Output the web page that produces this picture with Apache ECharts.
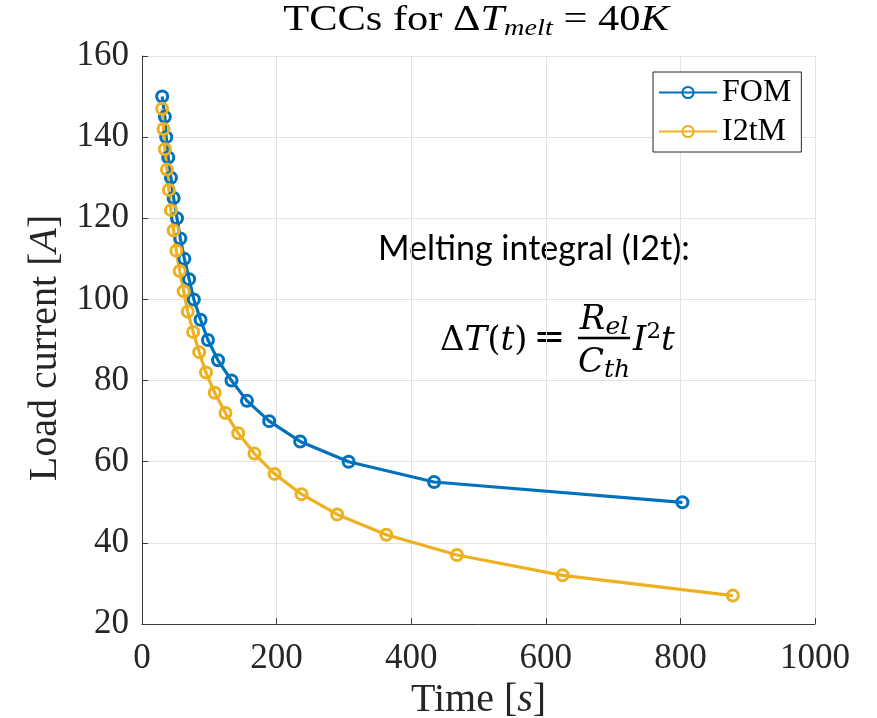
<!DOCTYPE html>
<html>
<head>
<meta charset="utf-8">
<script src="https://cdn.jsdelivr.net/npm/echarts@6/dist/echarts.min.js"></script>
<style>
  html, body { margin: 0; padding: 0; background: #ffffff; }
  #chart { width: 877px; height: 718px; }
</style>
</head>
<body>
<div id="chart"></div>
<script>
// Time-current characteristics: load current (A) and time to reach the melting temperature (s)
const seriesNames = ['FOM', 'I2tM'];

const fomCurrent = [150, 145, 140, 135, 130, 125, 120, 115, 110, 105, 100, 95, 90, 85, 80, 75, 70, 65, 60, 55, 50];
const fomTime    = [30, 34, 36, 39, 43, 47, 52, 57, 63, 70, 77, 87, 98, 113, 133, 156, 189, 235, 307, 434, 803];

const i2tCurrent = [147, 142, 137, 132, 127, 122, 117, 112, 107, 102, 97, 92, 87, 82, 77, 72, 67, 62, 57, 52, 47, 42, 37, 32, 27];
const i2tTime    = [30, 32, 34, 37, 40, 43, 47, 51, 56, 62, 68, 76, 85, 95, 108, 124, 143, 167, 197, 237, 290, 363, 468, 625, 878];

// Axis tick values
const timeTicks = [0, 200, 400, 600, 800, 1000];
const currentTicks = [20, 40, 60, 80, 100, 120, 140, 160];

const SERIF = 'Liberation Serif';
const MATH = 'DejaVu Serif';
const BLUE = '#0072BD';
const YELLOW = '#EDB120';
const AXIS = '#3a3a3a';

function pairs(xs, ys) {
  return xs.map((x, i) => [x, ys[i]]);
}

function lineSeries(name, color, data) {
  return {
    name: name,
    type: 'line',
    data: data,
    symbol: 'circle',
    symbolSize: 11,
    showAllSymbol: true,
    lineStyle: { color: color, width: 3.2 },
    itemStyle: { color: 'rgba(255,255,255,0)', borderColor: color, borderWidth: 3 },
    emphasis: { disabled: true },
    silent: true
  };
}

const chart = echarts.init(document.getElementById('chart'), null, { renderer: 'canvas' });

// rich-text token helper: family, size, italic flag, optional overrides
const tok = (family, size, italic, extra) => Object.assign({
  fontFamily: family, fontSize: size, fontStyle: italic ? 'italic' : 'normal', fontWeight: 'normal',
  fill: '#000', lineHeight: 40, verticalAlign: 'middle'
}, extra || {});

chart.setOption({
  animation: false,
  backgroundColor: '#ffffff',
  legend: {
    data: seriesNames,
    orient: 'vertical',
    left: 653,
    top: 72,
    padding: [4, 10, 4, 5],
    itemGap: 6,
    itemWidth: 58,
    itemHeight: 14,
    backgroundColor: '#ffffff',
    borderColor: '#262626',
    borderWidth: 1,
    borderRadius: 0,
    textStyle: { fontFamily: SERIF, fontSize: 32, color: '#000', lineHeight: 33 }
  },
  grid: {
    left: 142, right: 62, top: 56, bottom: 94,
    containLabel: false,
    outerBoundsMode: 'none'
  },
  xAxis: {
    type: 'value',
    min: timeTicks[0],
    max: timeTicks[timeTicks.length - 1],
    interval: timeTicks[1] - timeTicks[0],
    name: 'Time [{i|s}]',
    nameLocation: 'middle',
    nameGap: 52,
    nameTextStyle: {
      fontFamily: SERIF, fontSize: 40, color: '#262626',
      rich: { i: { fontFamily: SERIF, fontSize: 40, fontStyle: 'italic', color: '#262626' } }
    },
    axisLine: { show: true, onZero: false, lineStyle: { color: AXIS, width: 1 } },
    axisTick: { show: true, inside: true, length: 6, lineStyle: { color: AXIS, width: 1 } },
    axisLabel: { fontFamily: SERIF, fontSize: 35, color: '#262626', margin: 17, formatter: v => String(v) },
    splitLine: { show: true, lineStyle: { color: '#e3e3e3', width: 1 } }
  },
  yAxis: {
    type: 'value',
    min: currentTicks[0],
    max: currentTicks[currentTicks.length - 1],
    interval: currentTicks[1] - currentTicks[0],
    name: 'Load current [{i|A}]',
    nameLocation: 'middle',
    nameRotate: 90,
    nameGap: 75,
    nameTextStyle: {
      fontFamily: SERIF, fontSize: 40, color: '#262626',
      padding: [0, 16, 0, 0],
      rich: { i: { fontFamily: SERIF, fontSize: 40, fontStyle: 'italic', color: '#262626' } }
    },
    axisLine: { show: true, onZero: false, lineStyle: { color: AXIS, width: 1 } },
    axisTick: { show: true, inside: true, length: 6, lineStyle: { color: AXIS, width: 1 } },
    axisLabel: { fontFamily: SERIF, fontSize: 35, color: '#262626', margin: 13, formatter: v => String(v) },
    splitLine: { show: true, lineStyle: { color: '#e3e3e3', width: 1 } }
  },
  series: [
    lineSeries(seriesNames[0], BLUE, pairs(fomTime, fomCurrent)),
    lineSeries(seriesNames[1], YELLOW, pairs(i2tTime, i2tCurrent))
  ],
  graphic: [
    // Chart heading (TeX-style, slightly widened serif)
    {
      type: 'text', x: 476, y: 21, scaleX: 1.18, silent: true,
      style: {
        text: '{a|TCCs for Δ}{b|T}{c|melt}{a| = 40}{b|K}',
        fontFamily: SERIF, fontSize: 36, fill: '#000',
        align: 'center', verticalAlign: 'middle', textAlign: 'center', textVerticalAlign: 'middle',
        rich: {
          a: tok(SERIF, 36, false),
          b: tok(SERIF, 36, true),
          c: tok(SERIF, 24, true, { lineHeight: 12.5, verticalAlign: 'bottom' })
        }
      }
    },
    // Melting-integral note: ΔT(t) = R_el / C_th · I²t
    {
      type: 'text', x: 378, y: 249, silent: true,
      style: {
        text: 'Melting integral (I2t):',
        fontFamily: 'Lato', fontSize: 34, fill: '#000',
        align: 'left', verticalAlign: 'middle', textAlign: 'left', textVerticalAlign: 'middle'
      }
    },
    {
      type: 'text', x: 440, y: 341, silent: true,
      style: {
        text: '{u|Δ}{i|T}{u|(}{i|t}{u|)}',
        fontFamily: MATH, fontSize: 34, fill: '#000',
        align: 'left', verticalAlign: 'middle', textAlign: 'left', textVerticalAlign: 'middle',
        rich: { u: tok(MATH, 34, false), i: tok(MATH, 34, true) }
      }
    },
    {
      type: 'text', x: 549.5, y: 339, silent: true,
      style: {
        text: '=',
        fontFamily: MATH, fontSize: 38, fill: '#000',
        align: 'center', verticalAlign: 'middle', textAlign: 'center', textVerticalAlign: 'middle'
      }
    },
    {
      type: 'text', x: 604, y: 320, silent: true,
      style: {
        text: '{i|R}{s|el}',
        fontFamily: MATH, fontSize: 34, fill: '#000',
        align: 'center', verticalAlign: 'middle', textAlign: 'center', textVerticalAlign: 'middle',
        rich: { i: tok(MATH, 34, true), s: tok(MATH, 25, true, { lineHeight: 37, verticalAlign: 'bottom' }) }
      }
    },
    {
      type: 'line', silent: true,
      shape: { x1: 578, y1: 338, x2: 630, y2: 338 },
      style: { stroke: '#000', lineWidth: 2.4 }
    },
    {
      type: 'text', x: 604, y: 363, silent: true,
      style: {
        text: '{i|C}{s|th}',
        fontFamily: MATH, fontSize: 34, fill: '#000',
        align: 'center', verticalAlign: 'middle', textAlign: 'center', textVerticalAlign: 'middle',
        rich: { i: tok(MATH, 34, true), s: tok(MATH, 25, true, { lineHeight: 18, verticalAlign: 'bottom' }) }
      }
    },
    {
      type: 'text', x: 633, y: 341, silent: true,
      style: {
        text: '{i|I}{p|2}{i|t}',
        fontFamily: MATH, fontSize: 34, fill: '#000',
        align: 'left', verticalAlign: 'middle', textAlign: 'left', textVerticalAlign: 'middle',
        rich: { i: tok(MATH, 34, true), p: tok(MATH, 23, false, { lineHeight: 30, verticalAlign: 'top' }) }
      }
    }
  ]
});
</script>
</body>
</html>
